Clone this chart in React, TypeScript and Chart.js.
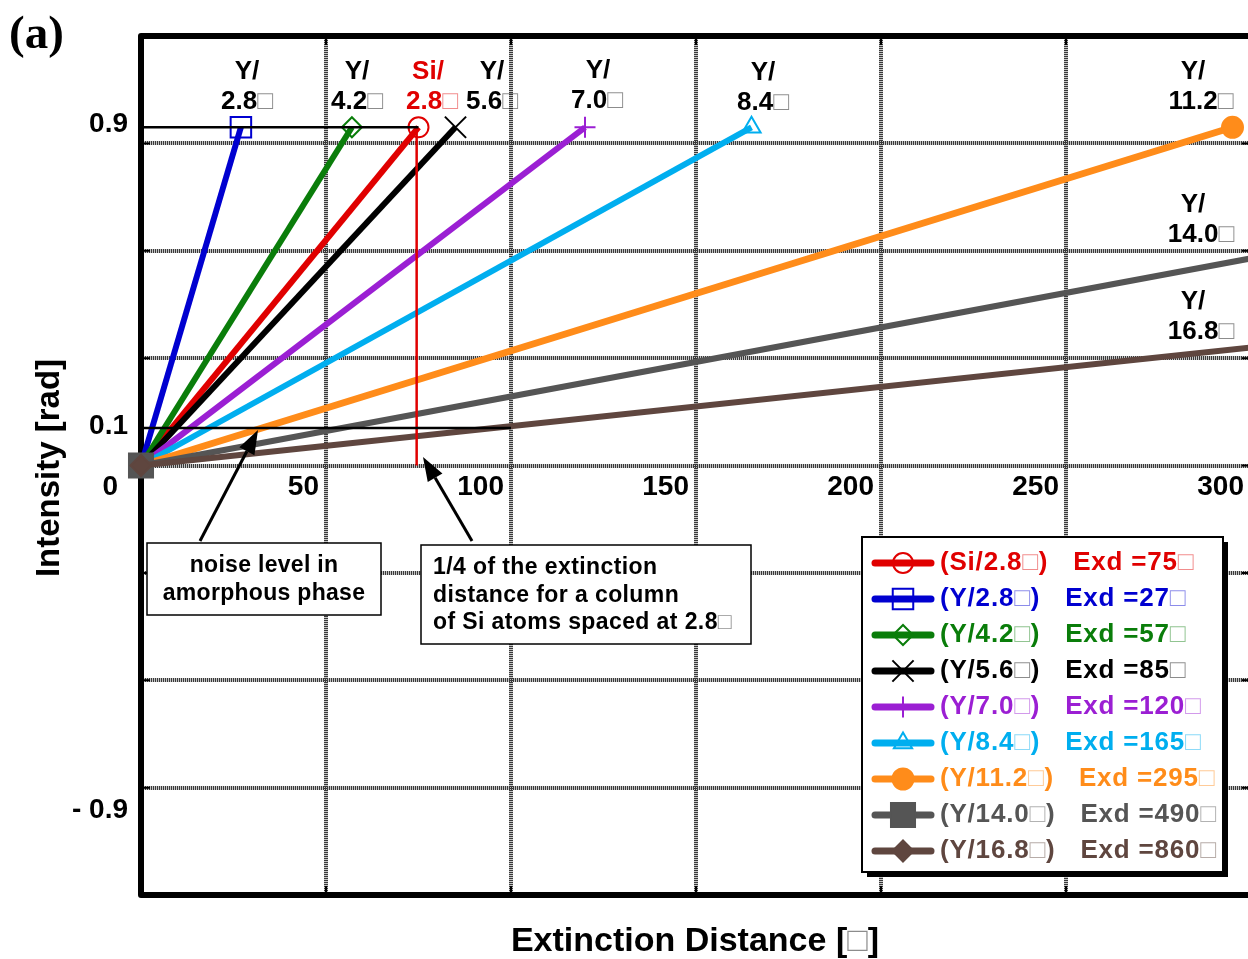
import React, { useEffect, useRef } from 'react';
import { Chart, registerables } from 'chart.js';

Chart.register(...registerables);

// ---------------- data ----------------
const seriesNames = ['Si/2.8□', 'Y/2.8□', 'Y/4.2□', 'Y/5.6□', 'Y/7.0□', 'Y/8.4□', 'Y/11.2□', 'Y/14.0□', 'Y/16.8□'];
const extinctionDistances = [75, 27, 57, 85, 120, 165, 295, 490, 860];
const startIntensity = 0;
const endIntensity = 0.9;
const xTickValues = [50, 100, 150, 200, 250, 300];
const yTickValues = [0.9, 0.1, 0, -0.9];
const yTickLabels = ['0.9', '0.1', '0', '- 0.9'];
const noiseLevel = 0.1;
const noiseLineEnd = 100;
const quarterExtinction = 74.5;
const xMax = 300;
const xGridStep = 50;
const yLimit = 8 / 7;
const yGridStep = 2 / 7;
const noiseNote = ['noise level in', 'amorphous phase'];
const quarterNote = ['1/4 of the extinction', 'distance for a column', 'of Si atoms spaced at 2.8□'];
const xTitle = 'Extinction Distance [□]';
const yTitle = 'Intensity [rad]';
const panelTag = '(a)';

// ---------------- styles ----------------
const seriesColors = ['#e00000', '#0000d0', '#0a7d0a', '#000000', '#9b1fd3', '#00aeef', '#ff8c1a', '#555555', '#5f463f'];
const pointStyles = ['circle', 'rect', 'rectRot', 'crossRot', 'cross', 'triangle', 'circle', 'rect', 'rectRot'];
const pointFilled = [false, false, false, false, false, false, true, true, true];
const pointSizes = [10, 14.5, 10, 15, 10.5, 10.5, 10.5, 17, 10.5];

const W = 1262;
const H = 959;
const FONT = '"Liberation Sans", Arial, Helvetica, sans-serif';

function drawBoxText(ctx: any, text: string, x: number, y: number, align: string, color: string, size: number, spacing = 0) {
  const parts = text.split('□');
  const segs: { t: string; box: boolean }[] = [];
  parts.forEach((p, i) => {
    if (p) segs.push({ t: p, box: false });
    if (i < parts.length - 1) segs.push({ t: '□', box: true });
  });
  const mainFont = `bold ${size}px ${FONT}`;
  const boxFont = `normal ${size}px ${FONT}`;
  ctx.letterSpacing = `${spacing}px`;
  let total = 0;
  const widths = segs.map((s) => {
    ctx.font = s.box ? boxFont : mainFont;
    const w = ctx.measureText(s.t).width;
    total += w;
    return w;
  });
  let cx = align === 'left' ? x : align === 'right' ? x - total : x - total / 2;
  ctx.textAlign = 'left';
  ctx.textBaseline = 'middle';
  segs.forEach((s, i) => {
    ctx.font = s.box ? boxFont : mainFont;
    ctx.fillStyle = color;
    ctx.globalAlpha = s.box ? 0.45 : 1;
    ctx.fillText(s.t, cx, y);
    cx += widths[i];
  });
  ctx.globalAlpha = 1;
  ctx.letterSpacing = '0px';
  return total;
}

function drawMarker(ctx: CanvasRenderingContext2D, style: string, x: number, y: number, r: number, color: string, filled: boolean) {
  ctx.save();
  ctx.strokeStyle = color;
  ctx.fillStyle = filled ? color : 'rgba(0,0,0,0)';
  ctx.lineWidth = 2;
  ctx.beginPath();
  if (style === 'circle') {
    ctx.arc(x, y, r, 0, Math.PI * 2);
  } else if (style === 'rect') {
    const s = Math.SQRT1_2 * r;
    ctx.rect(x - s, y - s, 2 * s, 2 * s);
  } else if (style === 'rectRot') {
    ctx.moveTo(x - r, y);
    ctx.lineTo(x, y - r);
    ctx.lineTo(x + r, y);
    ctx.lineTo(x, y + r);
    ctx.closePath();
  } else if (style === 'crossRot') {
    const o = Math.SQRT1_2 * r;
    ctx.moveTo(x - o, y - o);
    ctx.lineTo(x + o, y + o);
    ctx.moveTo(x - o, y + o);
    ctx.lineTo(x + o, y - o);
  } else if (style === 'cross') {
    ctx.moveTo(x, y - r);
    ctx.lineTo(x, y + r);
    ctx.moveTo(x - r, y);
    ctx.lineTo(x + r, y);
  } else if (style === 'triangle') {
    ctx.moveTo(x, y - r);
    ctx.lineTo(x + r * Math.sin((2 * Math.PI) / 3), y - r * Math.cos((2 * Math.PI) / 3));
    ctx.lineTo(x + r * Math.sin((4 * Math.PI) / 3), y - r * Math.cos((4 * Math.PI) / 3));
    ctx.closePath();
  }
  if (filled) ctx.fill();
  ctx.stroke();
  ctx.restore();
}

function drawArrow(ctx: CanvasRenderingContext2D, x1: number, y1: number, x2: number, y2: number) {
  const ang = Math.atan2(y2 - y1, x2 - x1);
  const hl = 24;
  const hw = 8.5;
  const bx = x2 - hl * Math.cos(ang);
  const by = y2 - hl * Math.sin(ang);
  ctx.save();
  ctx.strokeStyle = '#000';
  ctx.fillStyle = '#000';
  ctx.lineWidth = 3;
  ctx.beginPath();
  ctx.moveTo(x1, y1);
  ctx.lineTo(bx, by);
  ctx.stroke();
  ctx.beginPath();
  ctx.moveTo(x2, y2);
  ctx.lineTo(bx + hw * Math.sin(ang), by - hw * Math.cos(ang));
  ctx.lineTo(bx - hw * Math.sin(ang), by + hw * Math.cos(ang));
  ctx.closePath();
  ctx.fill();
  ctx.restore();
}

const framePlugin = {
  id: 'frameAndTicks',
  beforeDatasetsDraw(chart: any) {
    const { ctx, chartArea: a, scales } = chart;
    ctx.save();
    ctx.strokeStyle = '#000';
    ctx.lineWidth = 2;
    scales.x.ticks.forEach((t: any) => {
      const px = scales.x.getPixelForValue(t.value);
      ctx.beginPath();
      ctx.moveTo(px, a.top);
      ctx.lineTo(px, a.top + 9);
      ctx.moveTo(px, a.bottom);
      ctx.lineTo(px, a.bottom - 9);
      ctx.stroke();
    });
    scales.y.ticks.forEach((t: any) => {
      const py = scales.y.getPixelForValue(t.value);
      ctx.beginPath();
      ctx.moveTo(a.left, py);
      ctx.lineTo(a.left + 9, py);
      ctx.moveTo(a.right, py);
      ctx.lineTo(a.right - 9, py);
      ctx.stroke();
    });
    ctx.lineWidth = 6;
    ctx.lineJoin = 'round';
    ctx.strokeRect(a.left, a.top, a.right - a.left, a.bottom - a.top);
    ctx.restore();
  },
  afterDraw(chart: any) {
    const { ctx, scales } = chart;
    const xs = scales.x;
    const ys = scales.y;
    ctx.save();

    // x tick labels (drawn on the zero line, right-aligned to each tick)
    const zeroY = ys.getPixelForValue(0);
    xTickValues.forEach((v) => {
      drawBoxText(ctx, String(v), xs.getPixelForValue(v) - 7, zeroY + 22, 'right', '#000', 28);
    });
    // y tick labels
    const yNudge = [-3, -2, 22, 7];
    const xNudge = [0, 0, -10, 0];
    yTickValues.forEach((v, i) => {
      drawBoxText(ctx, yTickLabels[i], 128 + xNudge[i], ys.getPixelForValue(v) + yNudge[i], 'right', '#000', 28);
    });

    // axis titles
    drawBoxText(ctx, xTitle, 695, 942, 'center', '#000', 34);
    ctx.save();
    ctx.translate(50, 468);
    ctx.rotate(-Math.PI / 2);
    drawBoxText(ctx, yTitle, 0, 0, 'center', '#000', 33);
    ctx.restore();

    // panel tag
    ctx.font = `bold 47px "Liberation Serif", "Times New Roman", serif`;
    ctx.fillStyle = '#000';
    ctx.textAlign = 'left';
    ctx.textBaseline = 'alphabetic';
    ctx.fillText(panelTag, 9, 48);

    // labels near series ends
    const labelPos = [
      [428, 432, 72],
      [247, 247, 72],
      [357, 357, 72],
      [492, 492, 72],
      [598, 597, 71],
      [763, 763, 73],
      [1193, 1201, 72],
      [1193, 1201, 205],
      [1193, 1201, 302],
    ];
    seriesNames.forEach((n, i) => {
      const idx = n.indexOf('/') + 1;
      const col = i === 0 ? seriesColors[0] : '#000';
      const [x1, x2, y] = labelPos[i];
      drawBoxText(ctx, n.slice(0, idx), x1, y, 'center', col, 26);
      drawBoxText(ctx, n.slice(idx), x2, y + 30, 'center', col, 26);
    });

    // arrows
    drawArrow(ctx, 200, 541, 258, 430);
    drawArrow(ctx, 472, 541, 423, 457);

    // annotation boxes
    ctx.fillStyle = '#fff';
    ctx.strokeStyle = '#000';
    ctx.lineWidth = 1.5;
    ctx.fillRect(147, 543, 234, 72);
    ctx.strokeRect(147, 543, 234, 72);
    noiseNote.forEach((t, i) => drawBoxText(ctx, t, 264, 566 + i * 28, 'center', '#000', 23, 0.3));
    ctx.fillStyle = '#fff';
    ctx.fillRect(421, 545, 330, 99);
    ctx.strokeRect(421, 545, 330, 99);
    quarterNote.forEach((t, i) => drawBoxText(ctx, t, 433, 568 + i * 27.5, 'left', '#000', 23, 0.4));

    // legend
    const lx = 862, ly = 537, lw = 361, lh = 335;
    ctx.fillStyle = '#000';
    ctx.fillRect(lx + 5, ly + 5, lw, lh);
    ctx.fillStyle = '#fff';
    ctx.fillRect(lx, ly, lw, lh);
    ctx.lineWidth = 2;
    ctx.strokeStyle = '#000';
    ctx.strokeRect(lx, ly, lw, lh);
    seriesNames.forEach((n, i) => {
      const cy = 563 + i * 36;
      ctx.save();
      ctx.strokeStyle = seriesColors[i];
      ctx.lineWidth = 7;
      ctx.lineCap = 'round';
      ctx.beginPath();
      ctx.moveTo(875, cy);
      ctx.lineTo(931, cy);
      ctx.stroke();
      ctx.restore();
      drawMarker(ctx, pointStyles[i], 903, cy, pointSizes[i], seriesColors[i], pointFilled[i]);
      const w = drawBoxText(ctx, `(${n})`, 940, cy, 'left', seriesColors[i], 26, 0.8);
      drawBoxText(ctx, `Exd =${extinctionDistances[i]}□`, 940 + w + 25, cy, 'left', seriesColors[i], 26, 0.8);
    });

    ctx.restore();
  },
};

export default function App() {
  const ref = useRef<HTMLCanvasElement>(null);

  useEffect(() => {
    const canvas = ref.current;
    if (!canvas) return;

    const series = seriesNames.map((name, i) => ({
      label: name,
      data: [
        { x: 0, y: startIntensity },
        { x: extinctionDistances[i], y: endIntensity },
      ],
      showLine: true,
      borderColor: seriesColors[i],
      backgroundColor: seriesColors[i],
      borderWidth: i === 6 ? 7 : 6,
      pointStyle: pointStyles[i],
      pointRadius: pointSizes[i],
      pointBorderWidth: 2,
      pointBorderColor: seriesColors[i],
      pointBackgroundColor: pointFilled[i] ? seriesColors[i] : 'rgba(0,0,0,0)',
      order: 100 - i,
      clip: { left: 30, top: 0, right: 0, bottom: 0 },
    }));

    const helpers = [
      {
        label: 'level 0.9',
        data: [
          { x: 0, y: endIntensity },
          { x: extinctionDistances[0], y: endIntensity },
        ],
        borderColor: '#000',
      },
      {
        label: 'noise level',
        data: [
          { x: 0, y: noiseLevel },
          { x: noiseLineEnd, y: noiseLevel },
        ],
        borderColor: '#000',
      },
      {
        label: 'quarter extinction',
        data: [
          { x: quarterExtinction, y: endIntensity },
          { x: quarterExtinction, y: 0 },
        ],
        borderColor: seriesColors[0],
      },
    ].map((d) => ({ ...d, showLine: true, borderWidth: 2.5, pointRadius: 0, order: 0 }));

    const yGridTicks = (scale: any) => {
      const t = [];
      for (let k = -4; k <= 4; k++) t.push({ value: k * yGridStep });
      scale.ticks = t;
    };

    const chart = new Chart(canvas, {
      type: 'scatter',
      data: { datasets: [...helpers, ...series] as any },
      plugins: [framePlugin as any],
      options: {
        animation: false,
        responsive: false,
        devicePixelRatio: 1,
        events: [],
        layout: { autoPadding: false, padding: { left: 141, top: 36, right: W - 1251, bottom: H - 895 } },
        plugins: { legend: { display: false }, tooltip: { enabled: false } },
        scales: {
          xBand: {
            type: 'linear',
            axis: 'x',
            position: 'bottom',
            min: 0,
            max: xMax,
            ticks: { display: false, stepSize: xGridStep },
            grid: { color: '#c4c4c4', lineWidth: 4, drawTicks: false, z: -1 },
            border: { display: false },
          },
          yBand: {
            type: 'linear',
            axis: 'y',
            position: 'left',
            min: -yLimit,
            max: yLimit,
            afterBuildTicks: yGridTicks,
            ticks: { display: false },
            grid: { color: '#c4c4c4', lineWidth: 4, drawTicks: false, z: -1 },
            border: { display: false },
          },
          x: {
            type: 'linear',
            position: 'bottom',
            min: 0,
            max: xMax,
            ticks: { display: false, stepSize: xGridStep },
            grid: { color: '#3a3a3a', lineWidth: 4, drawTicks: false },
            border: { display: false, dash: [1, 1] },
          },
          y: {
            type: 'linear',
            position: 'left',
            min: -yLimit,
            max: yLimit,
            afterBuildTicks: yGridTicks,
            ticks: { display: false },
            grid: { color: '#3a3a3a', lineWidth: 4, drawTicks: false },
            border: { display: false, dash: [1, 1] },
          },
        },
      } as any,
    });

    return () => chart.destroy();
  }, []);

  return (
    <div style={{ position: 'fixed', left: 0, top: 0, width: W, height: H, background: '#fff' }}>
      <canvas ref={ref} width={W} height={H} style={{ display: 'block', width: W, height: H }} />
    </div>
  );
}
